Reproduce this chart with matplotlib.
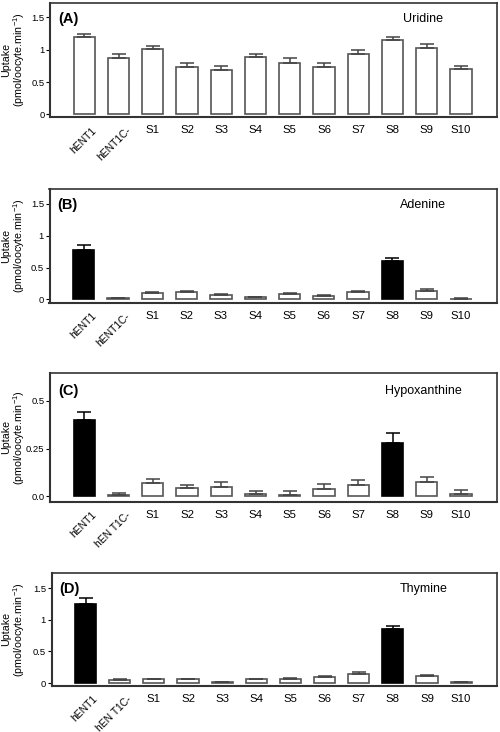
import matplotlib.pyplot as plt
import matplotlib.transforms as mtransforms
import numpy as np

labels_ab = ['hENT1', 'hENT1C-', 'S1', 'S2', 'S3', 'S4', 'S5', 'S6', 'S7', 'S8', 'S9', 'S10']
labels_cd = ['hENT1', 'hEN T1C-', 'S1', 'S2', 'S3', 'S4', 'S5', 'S6', 'S7', 'S8', 'S9', 'S10']

uridine = [1.19, 0.87, 1.01, 0.73, 0.68, 0.89, 0.80, 0.73, 0.93, 1.15, 1.02, 0.70]
uridine_err = [0.05, 0.06, 0.05, 0.06, 0.06, 0.05, 0.07, 0.07, 0.06, 0.04, 0.06, 0.05]

adenine = [0.78, 0.02, 0.10, 0.11, 0.07, 0.04, 0.09, 0.06, 0.12, 0.61, 0.13, 0.01]
adenine_err = [0.07, 0.01, 0.01, 0.02, 0.01, 0.005, 0.01, 0.01, 0.02, 0.04, 0.03, 0.01]

hypox = [0.40, 0.005, 0.07, 0.045, 0.05, 0.015, 0.005, 0.04, 0.06, 0.28, 0.075, 0.01]
hypox_err = [0.04, 0.013, 0.02, 0.015, 0.025, 0.015, 0.025, 0.025, 0.025, 0.05, 0.025, 0.025]

thymine = [1.25, 0.05, 0.06, 0.06, 0.015, 0.06, 0.06, 0.10, 0.14, 0.85, 0.12, 0.015]
thymine_err = [0.09, 0.01, 0.01, 0.01, 0.005, 0.01, 0.015, 0.01, 0.03, 0.06, 0.01, 0.005]

panels = [
    ('(A)', 'Uridine', uridine, uridine_err, labels_ab, [], (-0.04, 1.72),
     [0, 0.5, 1, 1.5], ['0', '0.5', '1', '1.5']),
    ('(B)', 'Adenine', adenine, adenine_err, labels_ab, [0, 9], (-0.05, 1.73),
     [0, 0.5, 1, 1.5], ['0', '0.5', '1', '1.5']),
    ('(C)', 'Hypoxanthine', hypox, hypox_err, labels_cd, [0, 9], (-0.028, 0.648),
     [0, 0.25, 0.5], ['0.0', '0.25', '0.5']),
    ('(D)', 'Thymine', thymine, thymine_err, labels_cd, [0, 9], (-0.04, 1.745),
     [0, 0.5, 1, 1.5], ['0', '0.5', '1', '1.5']),
]

# axes rectangles in figure fraction (left, bottom, width, height)
rects = [
    [0.100, 0.8402, 0.894, 0.1557],
    [0.099, 0.5865, 0.895, 0.1553],
    [0.100, 0.3146, 0.894, 0.1762],
    [0.103, 0.0633, 0.891, 0.1543],
]

plt.rcParams['font.family'] = ['Liberation Sans', 'DejaVu Sans']
fig = plt.figure(figsize=(5, 7.32), dpi=100)
shift = mtransforms.ScaledTranslation(0.07, 0.0, fig.dpi_scale_trans)

for (tag, name, vals, errs, labs, black, ylim, yt, ytl), r in zip(panels, rects):
    ax = fig.add_axes(r)
    x = np.arange(len(vals))
    face = ['black' if i in black else 'white' for i in x]
    edge = ['black' if i in black else '#555555' for i in x]
    ax.bar(x, vals, width=0.62, color=face, edgecolor=edge, linewidth=1.2, zorder=2)
    for i in x:
        c = 'black' if i in black else '#444444'
        ax.errorbar(i, vals[i], yerr=[[0], [errs[i]]], fmt='none', ecolor=c,
                    elinewidth=1.1, capsize=5, capthick=1.1, zorder=3)
    ax.set_xlim(-1, 12.05)
    ax.set_ylim(*ylim)
    ax.set_yticks(yt)
    ax.set_yticklabels(ytl, fontsize=6.8)
    ax.set_xticks(x)
    ax.set_xticklabels(labs, fontsize=8.2)
    ax.tick_params(axis='x', length=0, pad=6)
    ax.tick_params(axis='y', length=3, width=0.8, pad=1)
    for lab in ax.get_xticklabels()[:2]:
        lab.set_rotation(45)
        lab.set_fontsize(7.4)
        lab.set_ha('right')
        lab.set_va('top')
        lab.set_rotation_mode('anchor')
        lab.set_transform(lab.get_transform() + shift)
    for s in ax.spines.values():
        s.set_color('#333333')
        s.set_linewidth(1.2)
    ax.spines['left'].set_linewidth(1.5)
    ax.spines['bottom'].set_linewidth(1.5)
    ax.text(0.018, 0.86, tag, transform=ax.transAxes, fontsize=10.5,
            fontweight='bold', va='center', ha='left')
    ax.text(0.835, 0.86, name, transform=ax.transAxes, fontsize=9,
            va='center', ha='center')
    ax.set_ylabel('Uptake\n(pmol/oocyte.min$\\mathregular{^{-1}}$)', fontsize=7.7,
                  linespacing=1.0)
    # place the label by its centre, near the figure edge
    ax.yaxis.label.set_va('center')
    ax.yaxis.set_label_coords((14.5 - r[0] * 500) / (r[2] * 500), 0.5)

fig.savefig('out.png', dpi=100)
